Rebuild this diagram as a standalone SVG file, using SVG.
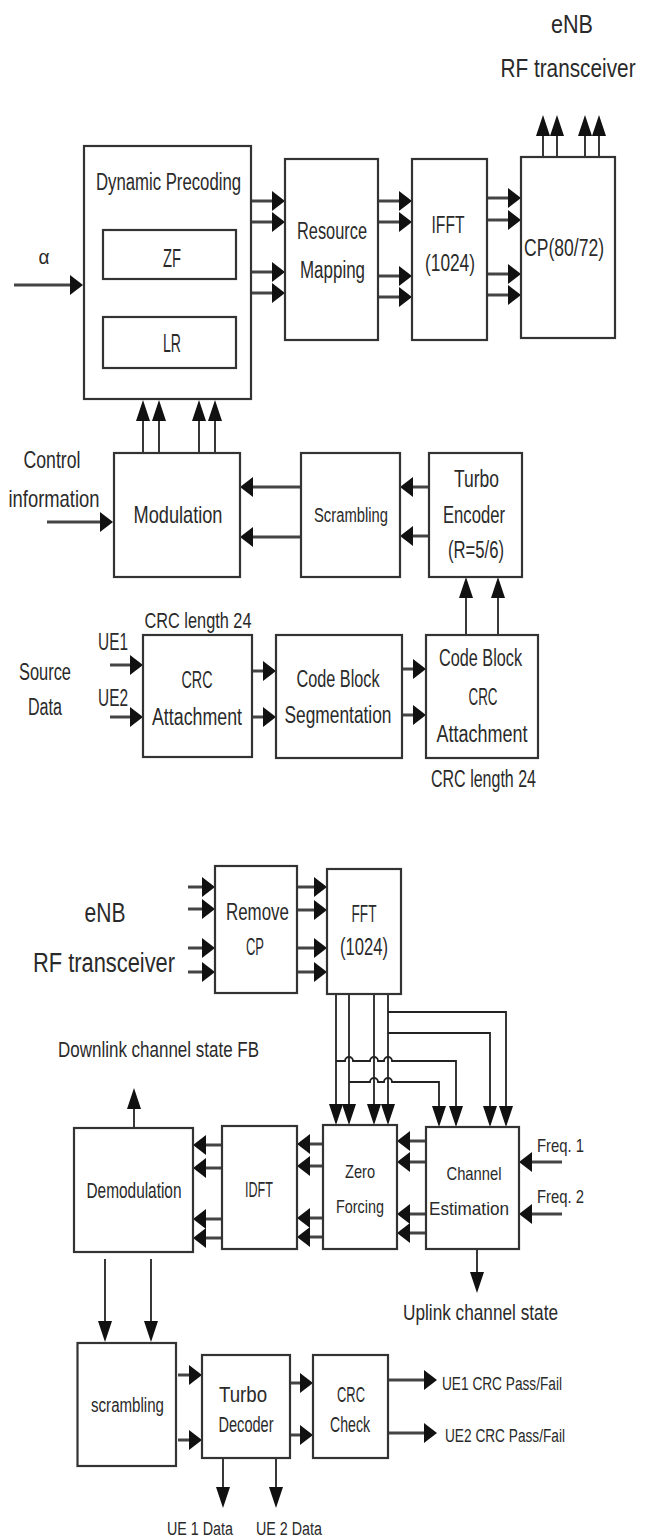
<svg xmlns="http://www.w3.org/2000/svg" width="647" height="1539" viewBox="0 0 647 1539">
<style>
.box{fill:#fff;stroke:#333;stroke-width:2.2}
.t{font-family:"Liberation Sans",Arial,sans-serif;fill:#2a2a2a;text-anchor:middle}
.s{text-anchor:start}
.h{fill:none;stroke:#444;stroke-width:3;marker-end:url(#ah)}
.v{fill:none;stroke:#222;stroke-width:1.8;marker-end:url(#av)}
</style>
<defs>
<marker id="ah" markerUnits="userSpaceOnUse" viewBox="0 -11 14 22" markerWidth="14" markerHeight="22" refX="7" refY="0" orient="auto">
<path d="M0,-10 L13,0 L0,10 Z" fill="#111"/>
</marker>
<marker id="av" markerUnits="userSpaceOnUse" viewBox="0 -8 22 16" markerWidth="22" markerHeight="16" refX="13" refY="0" orient="auto">
<path d="M0,-7 L21,0 L0,7 Z" fill="#111"/>
</marker>
</defs>
<rect width="647" height="1539" fill="#fff"/>

<g id="connectors">
<path class="h" d="M14,285 H77"/>
<path class="h" d="M251,201 H279"/>
<path class="h" d="M251,222 H279"/>
<path class="h" d="M251,272 H279"/>
<path class="h" d="M251,293 H279"/>
<path class="h" d="M378,201 H406"/>
<path class="h" d="M378,222 H406"/>
<path class="h" d="M378,276 H406"/>
<path class="h" d="M378,297 H406"/>
<path class="h" d="M487,198 H515"/>
<path class="h" d="M487,220 H515"/>
<path class="h" d="M487,274 H515"/>
<path class="h" d="M487,295 H515"/>
<path class="v" d="M543,157 V123"/>
<path class="v" d="M557,157 V123"/>
<path class="v" d="M585,157 V123"/>
<path class="v" d="M599,157 V123"/>
<path class="v" d="M143,453 V408"/>
<path class="v" d="M159,453 V408"/>
<path class="v" d="M199,453 V408"/>
<path class="v" d="M215,453 V408"/>
<path class="h" d="M47,522 H107"/>
<path class="h" d="M301,487 H246"/>
<path class="h" d="M301,537 H246"/>
<path class="h" d="M429,487 H406"/>
<path class="h" d="M429,536 H406"/>
<path class="v" d="M466,635 V585"/>
<path class="v" d="M498,635 V585"/>
<path class="h" d="M110,665 H137"/>
<path class="h" d="M110,717 H137"/>
<path class="h" d="M252,671 H270"/>
<path class="h" d="M252,717 H270"/>
<path class="h" d="M402,669 H420"/>
<path class="h" d="M402,715 H420"/>
<path class="h" d="M188,887 H209"/>
<path class="h" d="M188,909 H209"/>
<path class="h" d="M188,948 H209"/>
<path class="h" d="M188,972 H209"/>
<path class="h" d="M297,887 H321"/>
<path class="h" d="M297,910 H321"/>
<path class="h" d="M297,948 H321"/>
<path class="h" d="M297,972 H321"/>
<path class="v" d="M336,994 V1117"/>
<path class="v" d="M349,994 V1117"/>
<path class="v" d="M374,994 V1117"/>
<path class="v" d="M388,994 V1117"/>
<path class="v" d="M388,1012 H506 V1119"/>
<path class="v" d="M388,1033 H490 V1119"/>
<path class="v" d="M336,1061 H345 A4,4 0 0 1 353,1061 H370 A4,4 0 0 1 378,1061 H384 A4,4 0 0 1 392,1061 H456 V1119"/>
<path class="v" d="M349,1082 H370 A4,4 0 0 1 378,1082 H384 A4,4 0 0 1 392,1082 H439 V1119"/>
<path class="h" d="M426,1141 H403"/>
<path class="h" d="M426,1162 H403"/>
<path class="h" d="M426,1214 H403"/>
<path class="h" d="M426,1233 H403"/>
<path class="h" d="M323,1144 H303"/>
<path class="h" d="M323,1166 H303"/>
<path class="h" d="M323,1218 H303"/>
<path class="h" d="M323,1237 H303"/>
<path class="h" d="M222,1145 H199"/>
<path class="h" d="M222,1168 H199"/>
<path class="h" d="M222,1219 H199"/>
<path class="h" d="M222,1238 H199"/>
<path class="h" d="M562,1162 H525"/>
<path class="h" d="M562,1214 H525"/>
<path class="v" d="M477,1249 V1285"/>
<path class="v" d="M134,1128 V1096"/>
<path class="v" d="M105,1259 V1334"/>
<path class="v" d="M151,1259 V1334"/>
<path class="h" d="M178,1375 H196"/>
<path class="h" d="M178,1440 H196"/>
<path class="h" d="M290,1383 H307"/>
<path class="h" d="M290,1435 H307"/>
<path class="h" d="M388,1380 H431"/>
<path class="h" d="M388,1433 H431"/>
<path class="v" d="M223,1458 V1500"/>
<path class="v" d="M276,1458 V1500"/>
</g>

<g id="label-enb-top">
<text class="t" x="572" y="33" font-size="25" textLength="42" lengthAdjust="spacingAndGlyphs">eNB</text>
<text class="t" transform="translate(568,77) scale(0.8,1)" x="0" y="0" font-size="26">RF transceiver</text>
</g>
<g id="label-alpha"><text class="t" x="44" y="264" font-size="20" textLength="11" lengthAdjust="spacingAndGlyphs">α</text></g>

<g id="dynamic-precoding">
<rect class="box" x="84" y="146" width="167" height="253"/>
<text class="t" x="168.5" y="190" font-size="23" textLength="145" lengthAdjust="spacingAndGlyphs">Dynamic Precoding</text>
</g>
<g id="zf">
<rect class="box" x="103" y="230" width="133" height="49"/>
<text class="t" x="172" y="267" font-size="25" textLength="18" lengthAdjust="spacingAndGlyphs">ZF</text>
</g>
<g id="lr">
<rect class="box" x="103" y="317" width="133" height="51"/>
<text class="t" x="172" y="352" font-size="25" textLength="18" lengthAdjust="spacingAndGlyphs">LR</text>
</g>
<g id="resource-mapping">
<rect class="box" x="285" y="159" width="93" height="181"/>
<text class="t" x="332" y="239" font-size="23" textLength="70" lengthAdjust="spacingAndGlyphs">Resource</text>
<text class="t" x="332.5" y="278" font-size="23" textLength="65" lengthAdjust="spacingAndGlyphs">Mapping</text>
</g>
<g id="ifft">
<rect class="box" x="412" y="159" width="75" height="181"/>
<text class="t" x="448" y="233" font-size="24" textLength="33" lengthAdjust="spacingAndGlyphs">IFFT</text>
<text class="t" x="450" y="271" font-size="24" textLength="50" lengthAdjust="spacingAndGlyphs">(1024)</text>
</g>
<g id="cp">
<rect class="box" x="521" y="157" width="94" height="181"/>
<text class="t" x="564" y="256" font-size="23" textLength="80" lengthAdjust="spacingAndGlyphs">CP(80/72)</text>
</g>

<g id="label-control">
<text class="t" x="52" y="468" font-size="24" textLength="57" lengthAdjust="spacingAndGlyphs">Control</text>
<text class="t" x="54" y="507" font-size="24" textLength="91" lengthAdjust="spacingAndGlyphs">information</text>
</g>
<g id="modulation">
<rect class="box" x="114" y="453" width="126" height="124"/>
<text class="t" x="178" y="523" font-size="24" textLength="89" lengthAdjust="spacingAndGlyphs">Modulation</text>
</g>
<g id="scrambling-tx">
<rect class="box" x="301" y="453" width="99" height="124"/>
<text class="t" x="351" y="522" font-size="20" textLength="74" lengthAdjust="spacingAndGlyphs">Scrambling</text>
</g>
<g id="turbo-encoder">
<rect class="box" x="429" y="453" width="93" height="124"/>
<text class="t" x="476.5" y="487" font-size="23" textLength="45" lengthAdjust="spacingAndGlyphs">Turbo</text>
<text class="t" x="474" y="523" font-size="23" textLength="62" lengthAdjust="spacingAndGlyphs">Encoder</text>
<text class="t" x="476" y="558" font-size="23" textLength="56" lengthAdjust="spacingAndGlyphs">(R=5/6)</text>
</g>

<g id="label-source">
<text class="t" x="45" y="680" font-size="23" textLength="52" lengthAdjust="spacingAndGlyphs">Source</text>
<text class="t" x="45" y="715" font-size="23" textLength="34" lengthAdjust="spacingAndGlyphs">Data</text>
<text class="t" x="113" y="650" font-size="23" textLength="30" lengthAdjust="spacingAndGlyphs">UE1</text>
<text class="t" x="113" y="706" font-size="23" textLength="30" lengthAdjust="spacingAndGlyphs">UE2</text>
</g>
<g id="crc-attachment">
<text class="t" x="198" y="628" font-size="22" textLength="107" lengthAdjust="spacingAndGlyphs">CRC length 24</text>
<rect class="box" x="143" y="635" width="109" height="122"/>
<text class="t" x="197" y="688" font-size="23" textLength="31" lengthAdjust="spacingAndGlyphs">CRC</text>
<text class="t" x="197" y="725" font-size="23" textLength="90" lengthAdjust="spacingAndGlyphs">Attachment</text>
</g>
<g id="code-block-segmentation">
<rect class="box" x="276" y="635" width="126" height="123"/>
<text class="t" x="338" y="687" font-size="23" textLength="83" lengthAdjust="spacingAndGlyphs">Code Block</text>
<text class="t" x="338" y="723" font-size="23" textLength="107" lengthAdjust="spacingAndGlyphs">Segmentation</text>
</g>
<g id="code-block-crc">
<rect class="box" x="426" y="635" width="112" height="123"/>
<text class="t" x="480.5" y="666" font-size="23" textLength="83" lengthAdjust="spacingAndGlyphs">Code Block</text>
<text class="t" x="483" y="705" font-size="23" textLength="29" lengthAdjust="spacingAndGlyphs">CRC</text>
<text class="t" x="482" y="742" font-size="23" textLength="91" lengthAdjust="spacingAndGlyphs">Attachment</text>
<text class="t" x="483.5" y="787" font-size="23" textLength="105" lengthAdjust="spacingAndGlyphs">CRC length 24</text>
</g>

<g id="label-enb-bottom">
<text class="t" x="105" y="922" font-size="27" textLength="41" lengthAdjust="spacingAndGlyphs">eNB</text>
<text class="t" x="104" y="972" font-size="27" textLength="142" lengthAdjust="spacingAndGlyphs">RF transceiver</text>
</g>
<g id="remove-cp">
<rect class="box" x="215" y="866" width="82" height="127"/>
<text class="t" x="257.5" y="920" font-size="23" textLength="63" lengthAdjust="spacingAndGlyphs">Remove</text>
<text class="t" x="255" y="955" font-size="23" textLength="18" lengthAdjust="spacingAndGlyphs">CP</text>
</g>
<g id="fft">
<rect class="box" x="327" y="869" width="74" height="125"/>
<text class="t" x="364" y="922" font-size="23" textLength="25" lengthAdjust="spacingAndGlyphs">FFT</text>
<text class="t" x="364" y="955" font-size="23" textLength="48" lengthAdjust="spacingAndGlyphs">(1024)</text>
</g>
<g id="label-downlink"><text class="t" x="158.5" y="1057" font-size="22" textLength="201" lengthAdjust="spacingAndGlyphs">Downlink channel state FB</text></g>
<g id="demodulation">
<rect class="box" x="74" y="1128" width="119" height="124"/>
<text class="t" x="134" y="1198" font-size="22" textLength="95" lengthAdjust="spacingAndGlyphs">Demodulation</text>
</g>
<g id="idft">
<rect class="box" x="222" y="1126" width="75" height="123"/>
<text class="t" x="259" y="1197" font-size="22" textLength="28" lengthAdjust="spacingAndGlyphs">IDFT</text>
</g>
<g id="zero-forcing">
<rect class="box" x="323" y="1125" width="74" height="124"/>
<text class="t" x="360" y="1178" font-size="19" textLength="30" lengthAdjust="spacingAndGlyphs">Zero</text>
<text class="t" x="360" y="1213" font-size="19" textLength="48" lengthAdjust="spacingAndGlyphs">Forcing</text>
</g>
<g id="channel-estimation">
<rect class="box" x="426" y="1127" width="93" height="122"/>
<text class="t" x="474" y="1180" font-size="19" textLength="55" lengthAdjust="spacingAndGlyphs">Channel</text>
<text class="t" x="469" y="1215" font-size="19" textLength="80" lengthAdjust="spacingAndGlyphs">Estimation</text>
</g>
<g id="label-freq">
<text class="t s" x="537" y="1152" font-size="19" textLength="47" lengthAdjust="spacingAndGlyphs">Freq. 1</text>
<text class="t s" x="537" y="1203" font-size="19" textLength="47" lengthAdjust="spacingAndGlyphs">Freq. 2</text>
</g>
<g id="label-uplink"><text class="t" x="480.5" y="1320" font-size="22" textLength="155" lengthAdjust="spacingAndGlyphs">Uplink channel state</text></g>
<g id="scrambling-rx">
<rect class="box" x="77.5" y="1343" width="98.5" height="123"/>
<text class="t" x="127.5" y="1412" font-size="20" textLength="73" lengthAdjust="spacingAndGlyphs">scrambling</text>
</g>
<g id="turbo-decoder">
<rect class="box" x="202" y="1355" width="88" height="103"/>
<text class="t" x="243" y="1402" font-size="22" textLength="48" lengthAdjust="spacingAndGlyphs">Turbo</text>
<text class="t" x="246" y="1432" font-size="22" textLength="55" lengthAdjust="spacingAndGlyphs">Decoder</text>
</g>
<g id="crc-check">
<rect class="box" x="313" y="1355" width="75" height="103"/>
<text class="t" x="351" y="1402" font-size="22" textLength="28" lengthAdjust="spacingAndGlyphs">CRC</text>
<text class="t" x="350" y="1432" font-size="22" textLength="40" lengthAdjust="spacingAndGlyphs">Check</text>
</g>
<g id="label-crc-out">
<text class="t s" x="442" y="1390" font-size="18" textLength="120" lengthAdjust="spacingAndGlyphs">UE1 CRC Pass/Fail</text>
<text class="t s" x="445" y="1442" font-size="18" textLength="120" lengthAdjust="spacingAndGlyphs">UE2 CRC Pass/Fail</text>
</g>
<g id="label-ue-data">
<text class="t" x="200" y="1535" font-size="18" textLength="66" lengthAdjust="spacingAndGlyphs">UE 1 Data</text>
<text class="t" x="289" y="1535" font-size="18" textLength="66" lengthAdjust="spacingAndGlyphs">UE 2 Data</text>
</g>
</svg>
